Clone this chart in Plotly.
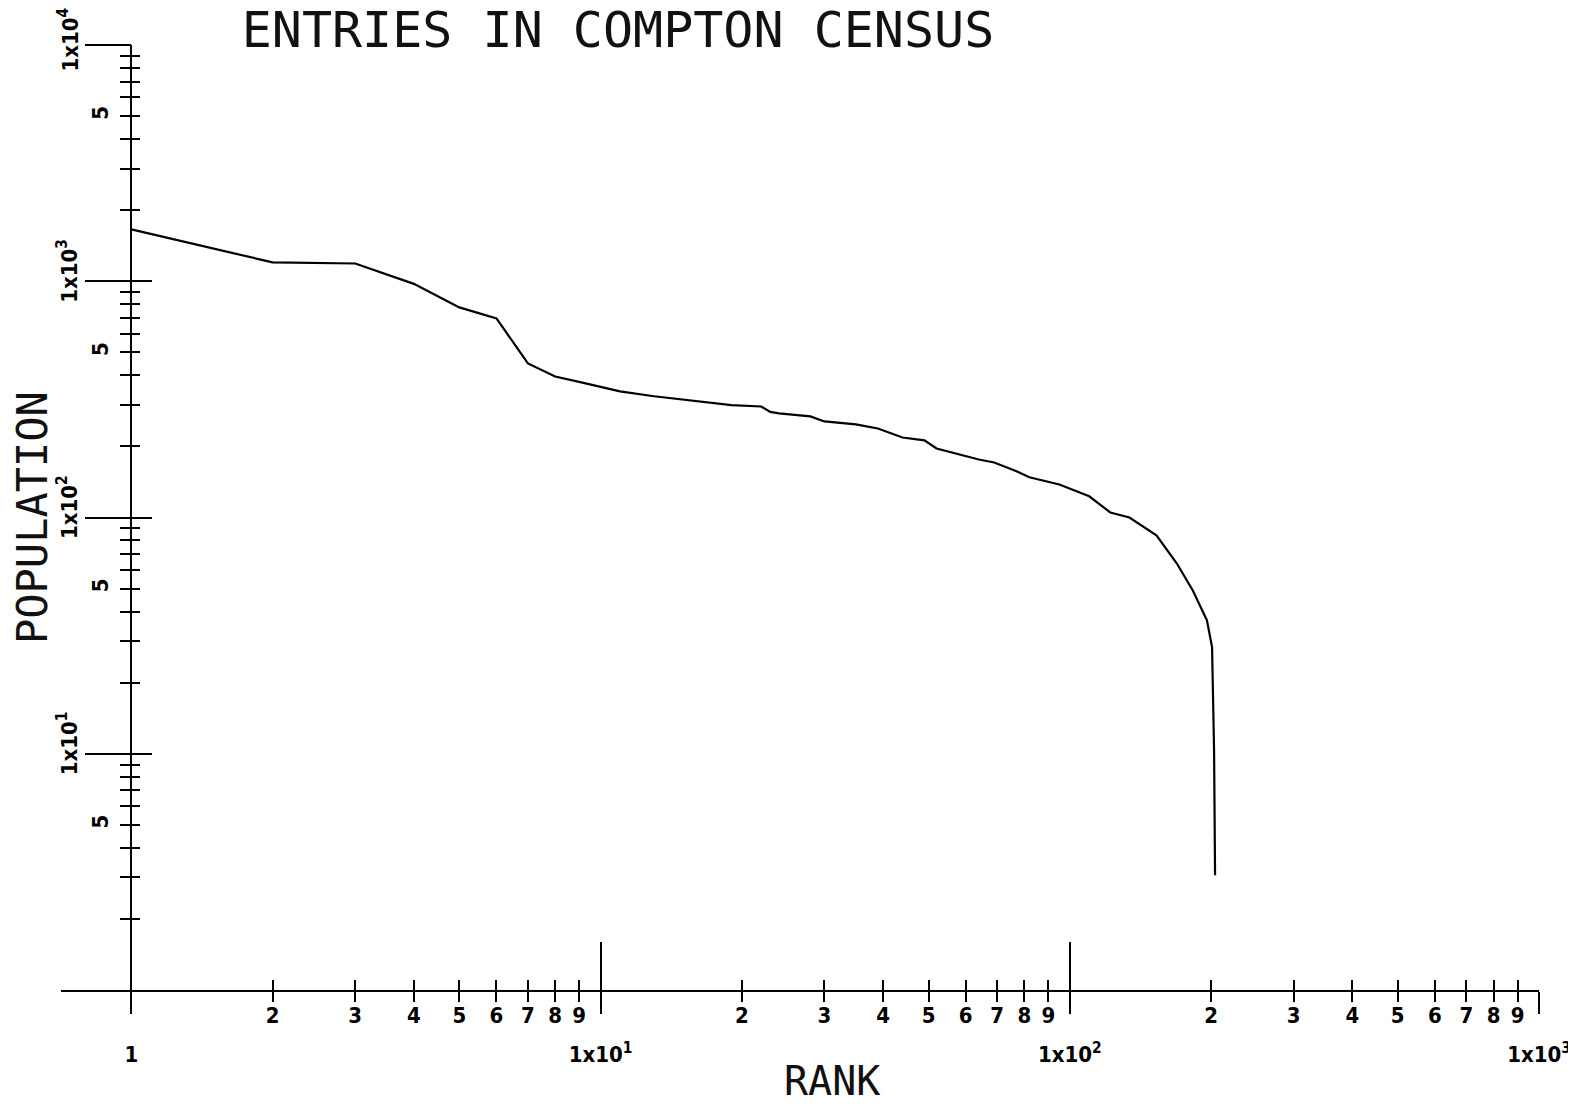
import plotly.graph_objects as go

# ---- data (rank vs population, log-log) ----
rank = [1, 2, 3, 4, 5, 6, 7, 8, 9, 10, 11, 13, 16, 19, 22, 23, 24, 28, 30, 35,
        39, 44, 49, 52, 64, 69, 77, 82, 95, 110, 122, 134, 153, 169, 183, 196,
        201, 202, 203, 204]
population = [1657, 1202, 1189, 975, 775, 696, 449, 395, 375, 357, 342, 326, 310, 299,
              295, 280, 276, 268, 255, 248, 238, 218, 212, 196, 176, 171, 157, 148,
              138, 123, 105, 100, 84, 64, 49, 36.7, 28.3, 19.1, 10.4, 3.06]

# ---- tick labels ----
x_decades = [1, 10, 100, 1000]
x_decade_text = ["1", "1x10<sup>1</sup>", "1x10<sup>2</sup>", "1x10<sup>3</sup>"]
minor_digits = [2, 3, 4, 5, 6, 7, 8, 9]
y_decades = [10, 100, 1000, 10000]
y_decade_text = ["1x10<sup>1</sup>", "1x10<sup>2</sup>", "1x10<sup>3</sup>", ""]
y_top = [10000]
y_top_text = ["1x10<sup>4</sup>"]
y_five = [5, 50, 500, 5000]
y_five_text = ["5", "5", "5", "5"]

x_minor_vals = [d * 10 ** k for k in range(3) for d in minor_digits]
x_minor_text = [str(d) for k in range(3) for d in minor_digits]
y_minor_vals = [d * 10 ** k for k in range(4) for d in minor_digits]

TICKFONT = dict(family="DejaVu Sans Condensed, DejaVu Sans", size=22, color="black", weight="bold")
PLOTFONT = "DejaVu Sans Mono, Liberation Mono, monospace"

# the page body has an 8px margin; size the figure so that no scrollbars appear
W, H = 1568, 1088
OFF = 8

X_RANGE = [-0.15, 3]
Y_RANGE = [0, 4]
YPOS = 0.15 / 3.15

ML, MT = 61 - OFF, 45 - OFF
MR = W - (1539 - OFF)
MB = H - (990 - OFF)
PW = W - ML - MR
PH = H - MT - MB

fig = go.Figure()
fig.add_trace(go.Scatter(x=rank, y=population, mode="lines",
                         line=dict(color="black", width=2.2), xaxis="x", yaxis="y",
                         showlegend=False))
# invisible helper traces so the overlay axes are drawn
for xa, ya in [("x2", "y2"), ("x3", "y3"), ("x", "y4")]:
    fig.add_trace(go.Scatter(x=rank, y=population, mode="lines",
                             line=dict(color="rgba(0,0,0,0)", width=0),
                             xaxis=xa, yaxis=ya, showlegend=False, hoverinfo="skip"))

base_x = dict(type="log", range=X_RANGE, showgrid=False, zeroline=False, fixedrange=True,
              automargin=False)
base_y = dict(type="log", range=Y_RANGE, showgrid=False, zeroline=False, fixedrange=True,
              anchor="free", position=YPOS, automargin=False)

fig.update_layout(
    width=W, height=H, autosize=False,
    paper_bgcolor="white", plot_bgcolor="white",
    margin=dict(l=ML, r=MR, t=MT, b=MB, autoexpand=False),
    showlegend=False,
    title=dict(text="ENTRIES IN COMPTON CENSUS", xref="container", yref="container",
               x=(618 - OFF) / W, xanchor="center", y=1 - (29 - OFF) / H, yanchor="middle",
               font=dict(family=PLOTFONT, size=50, color="#111")),
    xaxis=dict(**base_x, anchor="y", showline=True, linewidth=2, linecolor="black",
               tickmode="array", tickvals=x_decades, ticktext=x_decade_text,
               ticks="outside", ticklen=22, tickwidth=2, tickcolor="black",
               tickfont=TICKFONT, ticklabelstandoff=22, ticklabeloverflow="allow",
               minor=dict(tickmode="array", tickvals=x_minor_vals, ticks="outside",
                          ticklen=10, tickwidth=2, tickcolor="black")),
    xaxis2=dict(**base_x, anchor="y2", overlaying="x", showline=False,
                tickmode="array", tickvals=x_decades, ticks="inside", ticklen=48,
                tickwidth=2, tickcolor="black", showticklabels=False,
                minor=dict(tickmode="array", tickvals=x_minor_vals, ticks="inside",
                           ticklen=10, tickwidth=2, tickcolor="black")),
    xaxis3=dict(**base_x, anchor="y3", overlaying="x", showline=False,
                tickmode="array", tickvals=x_minor_vals, ticktext=x_minor_text,
                ticks="", showticklabels=True, tickfont=TICKFONT, ticklabelstandoff=10),
    yaxis=dict(**base_y, showline=True, linewidth=2, linecolor="black",
               tickmode="array", tickvals=y_decades, ticktext=y_decade_text,
               ticks="outside", ticklen=45, tickwidth=2, tickcolor="black",
               tickangle=-90, tickfont=TICKFONT, ticklabelshift=-7,
               ticklabeloverflow="allow",
               minor=dict(tickmode="array", tickvals=y_minor_vals, ticks="outside",
                          ticklen=10, tickwidth=2, tickcolor="black")),
    yaxis2=dict(**base_y, overlaying="y", showline=False,
                tickmode="array", tickvals=y_decades, ticks="inside", ticklen=20,
                tickwidth=2, tickcolor="black", showticklabels=False,
                minor=dict(tickmode="array", tickvals=y_minor_vals, ticks="inside",
                           ticklen=8, tickwidth=2, tickcolor="black")),
    yaxis3=dict(**base_y, overlaying="y", showline=False,
                tickmode="array", tickvals=y_five, ticktext=y_five_text,
                ticks="", tickangle=-90, tickfont=TICKFONT, ticklabelstandoff=19),
    yaxis4=dict(**base_y, overlaying="y", showline=False,
                tickmode="array", tickvals=y_top, ticktext=y_top_text,
                ticks="outside", ticklen=45, tickwidth=2, tickcolor="black",
                tickangle=-90, tickfont=TICKFONT, ticklabelshift=-2,
                ticklabeloverflow="allow"),
    annotations=[
        dict(text="RANK", xref="paper", yref="paper", x=(832 - 61) / PW,
             y=(990 - 1081) / PH, xanchor="center", yanchor="middle", showarrow=False,
             font=dict(family=PLOTFONT, size=40, color="#111")),
        dict(text="POPULATION", xref="paper", yref="paper", x=(32 - 61) / PW,
             y=(990 - 518) / PH, xanchor="center", yanchor="middle", showarrow=False,
             textangle=-90, font=dict(family=PLOTFONT, size=42, color="#111")),
    ],
)

fig.write_html("out.html")
